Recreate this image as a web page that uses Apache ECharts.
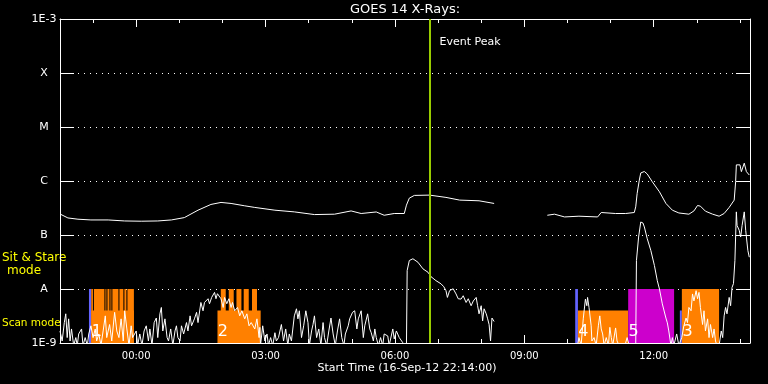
<!DOCTYPE html>
<html>
<head>
<meta charset="utf-8">
<script src="https://cdn.jsdelivr.net/npm/echarts@6/dist/echarts.min.js"></script>
<style>html,body{margin:0;padding:0;background:#000;}#c{width:768px;height:384px;}</style>
</head>
<body>
<div id="c"></div>
<script>
// Time axis: minutes after start time 16-Sep-12 22:14:00
const START_CLOCK_MIN = 22 * 60 + 14;
const SPAN_MIN = 960;
const hourTicks = [46,106,166,226,286,346,406,466,526,586,646,706,766,826,886,946];
const labelTicks = [106,286,466,646,826];
const yTickLabels = ['1E-9','A','B','C','M','X','1E-3'];
const peakMinute = 514;

// GOES long channel (1-8 A), [minute, W/m^2]
const longChannel = [
 [0,2.45e-7],[11,2.07e-7],[25,1.96e-7],[43,1.9e-7],[67,1.9e-7],[90,1.82e-7],[113,1.8e-7],[136,1.82e-7],[155,1.9e-7],
 [173,2.1e-7],[192,2.88e-7],[210,3.68e-7],[224,4.01e-7],[238,3.84e-7],[257,3.47e-7],[271,3.24e-7],[299,2.88e-7],
 [326,2.68e-7],[354,2.39e-7],[382,2.43e-7],[405,2.79e-7],[419,2.5e-7],[440,2.67e-7],[451,2.32e-7],[465,2.5e-7],
 [479,2.5e-7],[482,3.57e-7],[486,4.82e-7],[493,5.41e-7],[514,5.48e-7],[537,4.97e-7],[556,4.43e-7],[583,4.3e-7],
 [604,3.84e-7],[605,null],[678,2.32e-7],[688,2.43e-7],[702,2.16e-7],[722,2.23e-7],[748,2.16e-7],[753,2.61e-7],
 [773,2.5e-7],[787,2.5e-7],[799,2.61e-7],[801,3.32e-7],[803,5.91e-7],[806,1.04e-6],[808,1.41e-6],[813,1.5e-6],
 [817,1.35e-6],[824,9.7e-7],[834,6.31e-7],[843,3.84e-7],[852,2.88e-7],[861,2.56e-7],[875,2.43e-7],[882,2.79e-7],
 [887,3.52e-7],[891,3.42e-7],[898,2.76e-7],[908,2.43e-7],[917,2.23e-7],[924,2.5e-7],[931,3.24e-7],[938,4.43e-7],
 [940,9.7e-7],[941,1.99e-6],[946,1.99e-6],[948,1.49e-6],[952,2.14e-6],[955,1.49e-6],[959,1.29e-6]
];

// GOES short channel (0.5-4 A), [minute, W/m^2]
const shortChannel = [
 [0,1.67e-9],[3,1.09e-9],[6,2.39e-9],[8,3.47e-9],[10,1.26e-9],[12,2.8e-9],[14,1.09e-9],[16,1.82e-9],[19,9e-10],
 [22,1.26e-9],[24,9e-10],[26,1.47e-9],[30,1.82e-9],[32,9e-10],[35,1.26e-9],[38,9e-10],[40,1.47e-9],[43,2.08e-9],
 [46,1.26e-9],[49,1.82e-9],[51,1.09e-9],[54,1.47e-9],[57,9e-10],[60,1.67e-9],[63,3.18e-9],[65,1.26e-9],[69,2.2e-9],
 [72,1.09e-9],[76,3.7e-9],[79,1.67e-9],[82,1.26e-9],[85,2.8e-9],[88,1.09e-9],[90,3.95e-9],[93,1.82e-9],[96,9e-10],
 [99,2.08e-9],[101,1.26e-9],[106,1.67e-9],[108,9e-10],[111,1.47e-9],[114,9e-10],[117,1.67e-9],[120,2.08e-9],
 [123,1.09e-9],[125,1.82e-9],[128,9e-10],[131,2.39e-9],[134,2.9e-9],[136,1.26e-9],[139,3.47e-9],[141,4.55e-9],
 [143,1.67e-9],[146,2.8e-9],[149,1.26e-9],[151,1.09e-9],[154,1.82e-9],[157,9e-10],[160,1.67e-9],[162,2.08e-9],
 [164,1.26e-9],[167,1.09e-9],[169,2.08e-9],[172,1.47e-9],[176,2.39e-9],[178,1.67e-9],[181,3.18e-9],[183,2.08e-9],
 [187,2.8e-9],[190,3.7e-9],[192,2.39e-9],[196,5.63e-9],[199,3.95e-9],[201,5.63e-9],[206,6.6e-9],[208,5.33e-9],
 [211,6.98e-9],[215,8.65e-9],[217,6.6e-9],[219,8.18e-9],[224,6.6e-9],[227,4.55e-9],[229,6.98e-9],[232,5.33e-9],
 [235,6.6e-9],[238,4.55e-9],[240,5.63e-9],[243,3.95e-9],[247,4.55e-9],[250,3.18e-9],[253,3.95e-9],[257,2.8e-9],
 [260,3.47e-9],[263,2.08e-9],[266,2.39e-9],[271,1.82e-9],[274,2.8e-9],[277,1.26e-9],[278,1.95e-9],[279,9e-10],
 [282,2.08e-9],[285,1.09e-9],[288,1.47e-9],[290,9e-10],[293,1.26e-9],[296,9e-10],[299,1.55e-9],[301,1.09e-9],
 [304,1.26e-9],[308,2.2e-9],[311,1.09e-9],[314,1.82e-9],[317,9e-10],[319,1.47e-9],[322,1.09e-9],[326,3.18e-9],
 [329,4.3e-9],[331,2.8e-9],[333,3.95e-9],[336,1.26e-9],[339,2.08e-9],[342,3.95e-9],[345,2.39e-9],[347,9e-10],
 [350,1.67e-9],[352,2.2e-9],[354,3.18e-9],[357,1.26e-9],[360,1.82e-9],[363,9e-10],[366,2.39e-9],[368,1.26e-9],
 [371,9e-10],[374,1.67e-9],[377,2.9e-9],[380,1.47e-9],[383,9e-10],[386,1.67e-9],[389,2.8e-9],[392,1.26e-9],
 [395,9e-10],[397,1.47e-9],[401,2.08e-9],[403,2.8e-9],[405,2.9e-9],[407,3.7e-9],[410,3.95e-9],[413,1.82e-9],
 [415,2.8e-9],[419,3.95e-9],[422,1.26e-9],[424,2.08e-9],[428,3.47e-9],[431,1.82e-9],[433,1.55e-9],[436,1.09e-9],
 [438,1.82e-9],[440,1.26e-9],[443,9e-10],[446,1.26e-9],[449,9e-10],[451,1.47e-9],[456,1.35e-9],[458,9e-10],
 [463,1.82e-9],[465,1.19e-9],[468,1.67e-9],[472,1.26e-9],[477,1.01e-9],[480,9e-10],
 [482,8e-10],[483,2.2e-8],[486,3.37e-8],[491,3.63e-8],[498,3.13e-8],[505,2.36e-8],[512,2.04e-8],[516,1.7e-8],
 [523,1.43e-8],[530,1.25e-8],[534,1.1e-8],[537,9.31e-9],[539,6.98e-9],[542,9.31e-9],[544,8.65e-9],[547,1.01e-8],
 [551,8.1e-9],[554,6.6e-9],[558,6.5e-9],[561,7.5e-9],[565,5.63e-9],[568,6.6e-9],[572,4.9e-9],[575,6e-9],
 [579,6.98e-9],[581,4.9e-9],[583,3.47e-9],[586,4.9e-9],[588,2.57e-9],[590,4.3e-9],[593,3.47e-9],[595,2.8e-9],
 [597,2.2e-9],[599,1.09e-9],[601,2.9e-9],[604,2.5e-9],[605,null],
 [678,9e-10],[708,9e-10],[720,9e-10],[722,1.26e-9],[725,9e-10],[728,2.8e-9],[731,6.5e-9],[733,4.9e-9],
 [734,6.98e-9],[736,4.55e-9],[739,2.08e-9],[740,1.09e-9],[743,1.26e-9],[746,9e-10],[749,2.08e-9],[751,3.18e-9],
 [753,1.82e-9],[755,1.47e-9],[757,9e-10],[760,1.26e-9],[763,9e-10],[765,1.95e-9],[767,1.26e-9],[769,9e-10],
 [773,1.9e-9],[775,1.09e-9],[778,9e-10],[786,9e-10],[789,1.26e-9],[792,9e-10],[801,9e-10],
 [802,3.37e-8],[805,9.17e-8],[808,1.74e-7],[811,1.67e-7],[813,1.41e-7],[817,8.55e-8],[822,5.18e-8],[827,2.72e-8],
 [831,1.43e-8],[834,1e-8],[838,5.3e-9],[843,2.9e-9],[845,2.36e-9],[847,1.67e-9],[850,9e-10],[852,1.26e-9],
 [854,9e-10],[858,1.47e-9],[861,9e-10],[865,1.26e-9],[868,2.08e-9],[871,2.9e-9],[873,2.39e-9],[875,4.55e-9],
 [878,3.95e-9],[880,8.1e-9],[882,6e-9],[885,9.31e-9],[887,6.6e-9],[889,8.65e-9],[891,4.55e-9],[894,2.2e-9],
 [896,3.95e-9],[898,1.67e-9],[901,2.8e-9],[903,1.26e-9],[905,2.2e-9],[908,1.26e-9],[910,1.82e-9],[912,1.09e-9],
 [914,9e-10],[917,9e-10],[920,1.67e-9],[922,1.26e-9],[924,3.18e-9],[926,4.55e-9],[928,3.47e-9],[931,6.98e-9],
 [933,4.9e-9],[935,1.07e-8],[937,1.26e-8],[939,3.37e-8],[941,2.68e-7],[942,1.5e-7],[945,1.22e-7],[947,9.17e-8],
 [949,1.5e-7],[952,2.68e-7],[954,1.22e-7],[957,5.18e-8],[959,3.88e-8]
];

// Observation mode blocks: [start minute, end minute, level, kind]
const modeBlocks = [
 [40.3,43.5,1e-8,'blue'],
 [43.5,102.8,4e-9,'orange'],
 [43.5,45.8,1e-8,'orange'],[47.2,61.8,1e-8,'orange'],[63.2,64.6,1e-8,'orange'],[66,68.8,1e-8,'orange'],
 [70.2,71.5,1e-8,'orange'],[72.9,81.3,1e-8,'orange'],[82.7,88.2,1e-8,'orange'],[89.6,92.4,1e-8,'orange'],
 [93.8,102.8,1e-8,'orange'],
 [219.1,279.2,4e-9,'orange'],
 [223.7,230.6,1e-8,'orange'],[234.8,241.7,1e-8,'orange'],[245.5,252.4,1e-8,'orange'],[255.6,262.6,1e-8,'orange'],
 [267.1,274.1,1e-8,'orange'],
 [716.8,720.6,1e-8,'blue'],
 [720.6,790.5,4e-9,'orange'],
 [790.5,854.4,1e-8,'magenta'],
 [862.4,865.2,4e-9,'blue'],
 [865.2,917.0,1e-8,'orange']
];
const modeLabels = [[44,'1'],[219.5,'2'],[721,'4'],[791,'5'],[866,'3']];
const kindColors = {blue:'#6464FF', orange:'#FF8000', magenta:'#CC00CC'};

function clock(m){
  const t = (START_CLOCK_MIN + Math.round(m)) % 1440;
  const h = Math.floor(t/60), mm = t % 60;
  return String(h).padStart(2,'0') + ':' + String(mm).padStart(2,'0');
}
const FONT = 'DejaVu Sans';
const white = '#ffffff';

const chart = echarts.init(document.getElementById('c'), null, {renderer:'canvas'});

function xAx(pos, ticks, len, showLine, showLabel){
  return {
    type:'value', min:0, max:SPAN_MIN, position:pos,
    axisLine:{show:showLine, onZero:false, lineStyle:{color:white, width:1}},
    axisTick:{show:true, inside:true, length:len, customValues:ticks, lineStyle:{color:white, width:1}},
    axisLabel:{show:showLabel, customValues:ticks, formatter:clock, color:white, fontFamily:FONT, fontSize:10, margin:8},
    splitLine:{show:false}
  };
}
function yAx(pos, showLabel){
  return {
    type:'log', logBase:10, min:1e-9, max:1e-3, position:pos,
    axisLine:{show:true, onZero:false, lineStyle:{color:white, width:1}},
    axisTick:{show:true, inside:true, length:14, lineStyle:{color:white, width:1}},
    minorTick:{show:false},
    axisLabel:{show:showLabel, color:white, fontFamily:FONT, fontSize:11, align:'center', margin:16,
      formatter:function(v){ return yTickLabels[Math.round(Math.log10(v)) + 9]; }},
    splitLine:{show:showLabel, lineStyle:{color:white, width:1, type:[1,5]}}
  };
}

const option = {
  backgroundColor:'#000000',
  animation:false,
  grid:{left:60, right:18, top:19, bottom:41, containLabel:false},
  xAxis:[ xAx('bottom', hourTicks, 4, true, false), xAx('bottom', labelTicks, 8, false, true),
          xAx('top', hourTicks, 4, true, false), xAx('top', labelTicks, 8, false, false) ],
  yAxis:[ yAx('left', true), yAx('right', false) ],
  graphic:[
    {type:'text', x:405, y:10, style:{text:'GOES 14 X-Rays:', fill:white, font:'13px "DejaVu Sans"', align:'center', verticalAlign:'middle'}},
    {type:'text', x:407, y:368, style:{text:'Start Time (16-Sep-12 22:14:00)', fill:white, font:'11px "DejaVu Sans"', align:'center', verticalAlign:'middle'}},
    {type:'text', x:2, y:258, style:{text:'Sit & Stare', fill:'#FFFF00', font:'12px "DejaVu Sans"', align:'left', verticalAlign:'middle'}},
    {type:'text', x:24, y:271, style:{text:'mode', fill:'#FFFF00', font:'12px "DejaVu Sans"', align:'center', verticalAlign:'middle'}},
    {type:'text', x:2, y:323, style:{text:'Scan mode', fill:'#FFFF00', font:'10.5px "DejaVu Sans"', align:'left', verticalAlign:'middle'}}
  ],
  series:[
    {
      type:'custom', xAxisIndex:0, yAxisIndex:0, clip:true, silent:true, z:1,
      data: modeBlocks,
      encode:{x:[0,1], y:2},
      renderItem:function(params, api){
        const p0 = api.coord([api.value(0), api.value(2)]);
        const p1 = api.coord([api.value(1), 1e-9]);
        const kind = modeBlocks[params.dataIndex][3];
        return {type:'rect', shape:{x:p0[0], y:p0[1], width:p1[0]-p0[0], height:p1[1]-p0[1]},
                style:{fill:kindColors[kind]}};
      }
    },
    {
      type:'custom', xAxisIndex:0, yAxisIndex:0, clip:true, silent:true, z:4,
      data: modeLabels,
      encode:{x:0},
      renderItem:function(params, api){
        const p = api.coord([modeLabels[params.dataIndex][0], 1.6e-9]);
        return {type:'text', x:p[0], y:p[1],
                style:{text:modeLabels[params.dataIndex][1], fill:white, font:'16px "DejaVu Sans"', align:'left', verticalAlign:'middle'}};
      }
    },
    {
      type:'line', xAxisIndex:0, yAxisIndex:0, data:longChannel, showSymbol:false, symbol:'none', z:3,
      lineStyle:{color:white, width:1}, connectNulls:false, clip:true,
      markLine:{symbol:'none', silent:true, label:{show:false},
        lineStyle:{color:'#99CC00', width:2, type:'solid'}, data:[{xAxis:peakMinute}]},
      markPoint:{symbol:'circle', symbolSize:0, silent:true,
        label:{show:true, formatter:'Event Peak', position:'right', distance:10, color:white, fontFamily:FONT, fontSize:11},
        data:[{coord:[peakMinute, 3.7e-4]}]}
    },
    {
      type:'line', xAxisIndex:0, yAxisIndex:0, data:shortChannel, showSymbol:false, symbol:'none', z:3,
      lineStyle:{color:white, width:1}, connectNulls:false, clip:true
    }
  ]
};
chart.setOption(option);
</script>
</body>
</html>
